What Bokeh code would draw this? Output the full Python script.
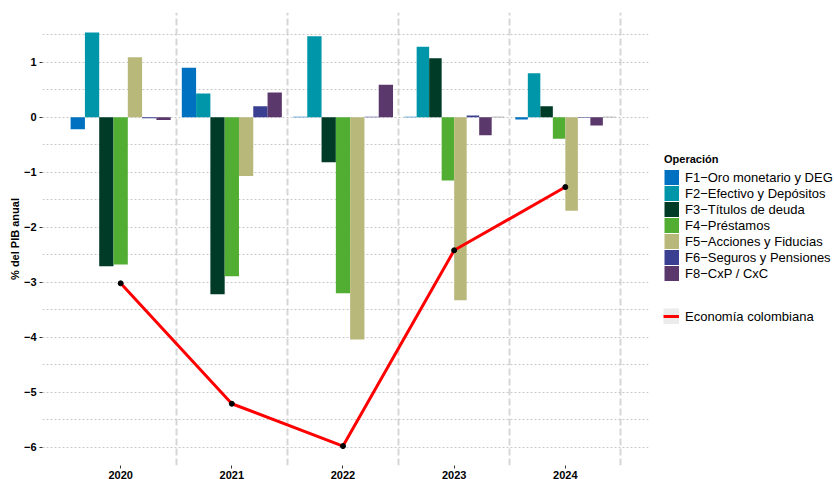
import math
from bokeh.plotting import figure
from bokeh.layouts import row
from bokeh.models import Range1d, FixedTicker, Legend, LegendItem, ColumnDataSource
from bokeh.embed import file_html
from bokeh.resources import INLINE

years = ["2020", "2021", "2022", "2023", "2024"]

labels = ["F1−Oro monetario y DEG", "F2−Efectivo y Depósitos", "F3−Títulos de deuda",
          "F4−Préstamos", "F5−Acciones y Fiducias", "F6−Seguros y Pensiones", "F8−CxP / CxC"]

f1 = [-0.22, 0.90, 0.01, 0.01, -0.04]
f2 = [1.54, 0.43, 1.47, 1.28, 0.80]
f3 = [-2.71, -3.22, -0.82, 1.07, 0.20]
f4 = [-2.68, -2.89, -3.20, -1.15, -0.39]
f5 = [1.09, -1.07, -4.04, -3.33, -1.70]
f6 = [-0.02, 0.20, 0.01, 0.03, -0.01]
f8 = [-0.05, 0.45, 0.59, -0.33, -0.15]
otros = [None, None, None, 0.01, 0.01]

economia = [-3.02, -5.21, -5.98, -2.42, -1.27]
economia_label = "Economía colombiana"

y_ticks = [-6, -5, -4, -3, -2, -1, 0, 1]

colors = ["#0070C0", "#0096A9", "#003B27", "#52AE32", "#B8B87A", "#3A3F92", "#5A386B"]
otros_color = "#7F7F7F"

FONT = "Liberation Sans"

series = [f1, f2, f3, f4, f5, f6, f8, otros]
series_colors = colors + [otros_color]

p = figure(frame_width=606, frame_height=453,
           min_border_left=42, min_border_top=12, min_border_right=6, min_border_bottom=14,
           x_range=Range1d(-0.703, 4.748), y_range=Range1d(-6.333, 1.904),
           output_backend="svg", toolbar_location=None)
p.outline_line_color = None
p.background_fill_color = "white"

# grids
p.xgrid.ticker = FixedTicker(ticks=[i + 0.5 for i in range(len(years))])
p.xgrid.grid_line_color = "#D6D6D6"
p.xgrid.grid_line_width = 2
p.xgrid.grid_line_dash = "7 3"

p.yaxis.ticker = FixedTicker(ticks=y_ticks, minor_ticks=[t + 0.5 for t in y_ticks])
p.ygrid.grid_line_color = "#C8C8C8"
p.ygrid.grid_line_width = 1
p.ygrid.grid_line_dash = "2 2"
p.ygrid.minor_grid_line_color = "#C8C8C8"
p.ygrid.minor_grid_line_width = 1
p.ygrid.minor_grid_line_dash = "2 2"

# axes
p.xaxis.ticker = FixedTicker(ticks=list(range(len(years))))
p.xaxis.major_label_overrides = {i: y for i, y in enumerate(years)}
p.yaxis.major_label_overrides = {t: (("−" + str(-t)) if t < 0 else str(t)) for t in y_ticks}
for ax in (p.xaxis, p.yaxis):
    ax.axis_line_color = None
    ax.major_tick_line_color = "#333333"
    ax.major_tick_out = 3
    ax.major_tick_in = 0
    ax.minor_tick_line_color = None
    ax.major_label_text_font = FONT
    ax.major_label_text_font_size = "11px"
    ax.major_label_text_font_style = "bold"
    ax.major_label_text_color = "black"
    ax.major_label_standoff = 2
p.yaxis.axis_label = "% del PIB anual"
p.yaxis.axis_label_text_font = FONT
p.yaxis.axis_label_text_font_size = "11px"
p.yaxis.axis_label_text_font_style = "bold"
p.yaxis.axis_label_text_color = "black"
p.yaxis.axis_label_standoff = 0

# dodged bars
dodge_total = 0.9
present = [[k for k, s in enumerate(series) if s[i] is not None] for i in range(len(years))]
for k, s in enumerate(series):
    xs, tops, ws = [], [], []
    for i, v in enumerate(s):
        if v is None:
            continue
        n = len(present[i])
        pos = present[i].index(k)
        w = dodge_total / n
        xs.append(i - dodge_total / 2 + (pos + 0.5) * w)
        tops.append(v)
        ws.append(w)
    src = ColumnDataSource(dict(x=xs, top=tops, w=ws))
    p.vbar(x="x", top="top", width="w", bottom=0, source=src,
           fill_color=series_colors[k], line_color=None)

# line
xi = list(range(len(years)))
p.line(xi, economia, line_color="#FF0000", line_width=3)
p.scatter(xi, economia, size=5, fill_color="black", line_color="black")

# legend panel
QH = 479
QB = 463  # measured bottom of the legend panel frame
q = figure(width=180, height=QH, min_border=0, min_border_left=0, min_border_right=0,
           min_border_top=0, min_border_bottom=0,
           x_range=Range1d(0, 1), y_range=Range1d(0, 1),
           x_axis_type=None, y_axis_type=None,
           output_backend="svg", toolbar_location=None)
q.outline_line_color = None
q.grid.visible = False

nan = math.nan
leg_keys = [q.line([nan, nan], [nan, nan], line_color=colors[k], line_width=15)
            for k in range(7)]
bg_r = q.line([nan, nan], [nan, nan], line_color="#EBEBEB", line_width=16)
red_r = q.line([nan, nan], [nan, nan], line_color="#FF0000", line_width=3)

leg1 = Legend(items=[LegendItem(label=labels[k], renderers=[leg_keys[k]]) for k in range(7)],
              title="Operación", location=(10, QB - 281),
              glyph_width=15, glyph_height=16, label_height=16, spacing=0,
              label_standoff=6, padding=0, margin=0,
              border_line_color=None, background_fill_alpha=0,
              label_text_font=FONT, label_text_font_size="13px", label_text_color="black",
              title_text_font=FONT, title_text_font_size="11px", title_text_font_style="bold",
              title_text_color="black", title_standoff=4)
leg2 = Legend(items=[LegendItem(label=economia_label, renderers=[bg_r, red_r])],
              location=(9, QB - 324),
              glyph_width=16, glyph_height=16, label_height=16, spacing=0,
              label_standoff=6, padding=0, margin=0,
              border_line_color=None, background_fill_alpha=0,
              label_text_font=FONT, label_text_font_size="13px", label_text_color="black")
q.add_layout(leg1)
q.add_layout(leg2)

layout = row(p, q)
open("out.html", "w").write(file_html(layout, INLINE))
